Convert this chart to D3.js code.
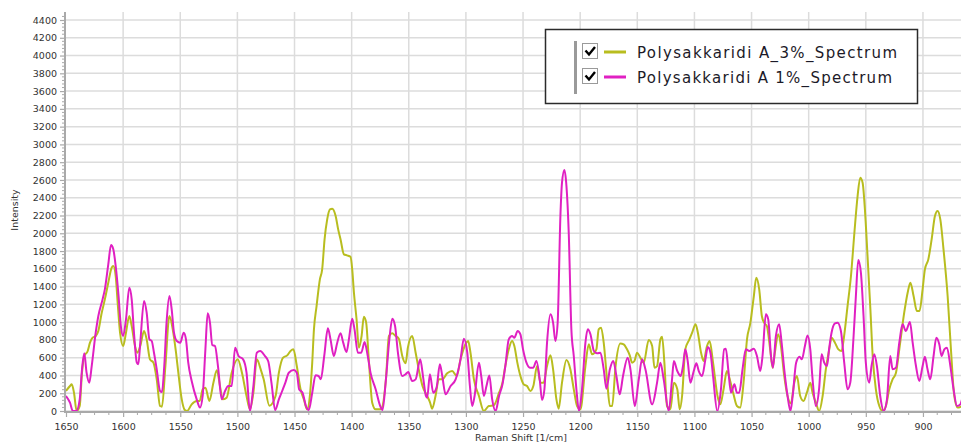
<!DOCTYPE html>
<html><head><meta charset="utf-8">
<script src="https://cdn.jsdelivr.net/npm/d3@7/dist/d3.min.js"></script>
<style>
html,body{margin:0;padding:0;background:#fff;}
svg{display:block;font-family:Verdana,"DejaVu Sans",sans-serif;}
</style></head>
<body>
<svg id="chart" width="961" height="445"></svg>
<script>
// ---- data ----
const seriesNames = ["Polysakkaridi A_3%_Spectrum", "Polysakkaridi A 1%_Spectrum"];
const seriesColors = ["#b8bd1f", "#e020c2"];
const xTickValues = [1650,1600,1550,1500,1450,1400,1350,1300,1250,1200,1150,1100,1050,1000,950,900];
const yTickValues = [0,200,400,600,800,1000,1200,1400,1600,1800,2000,2200,2400,2600,2800,3000,3200,3400,3600,3800,4000,4200,4400];

const shiftA = [1650,1646.5,1645,1643,1640.7,1638,1636,1634,1631,1629,1626.7,1624,1621.7,1619,1616,1613,1610,1608.6,1606.5,1604.8,1602.7,1600,1597.5,1594.6,1592.5,1589.6,1587.6,1585,1581.7,1579.4,1576.5,1573.5,1570.6,1567.7,1566,1563,1559.5,1556.6,1553.7,1551.7,1548.7,1546,1544,1540,1535.6,1533,1530.4,1528,1524.5,1521,1518,1515,1513,1509.4,1505,1499.7,1496,1492,1489,1486,1483,1479.6,1477,1472,1466.6,1463.7,1460,1456.4,1453.5,1451,1448,1444.7,1441.8,1439,1436.6,1434.5,1433,1430.7,1427.8,1425.8,1423.7,1421.4,1419,1417,1414,1411.8,1409.7,1406.8,1404,1401,1399.5,1398,1395.7,1393.7,1391.3,1389.3,1387.3,1385,1382,1379,1374.7,1370,1367.4,1364.5,1361.6,1358.7,1355.7,1352.8,1350.8,1347,1344,1341,1338,1333.9,1331.5,1329.5,1326.6,1323.7,1320.7,1316.4,1312,1308,1304.7,1300,1298,1296,1293,1288.6,1284.3,1280,1275.6,1271,1268,1265.5,1262.5,1259.6,1257.6,1255,1252.3,1249.4,1246.5,1243.6,1241,1237.7,1234.8,1232,1229,1226,1223.7,1220.8,1218.8,1215.9,1212,1208.6,1205.6,1202.7,1199.8,1195.4,1192.5,1189.6,1185.8,1183.8,1181.7,1179.4,1176.5,1174,1172,1169,1164.8,1161.9,1159,1156.6,1154.6,1152.5,1150.2,1147.3,1144.4,1140,1137,1135,1132.7,1129.8,1128.3,1126.3,1124,1121,1118,1115,1112.9,1110.8,1108,1104.4,1102,1099,1097,1094.2,1092,1089,1086.7,1083.7,1079.8,1077.4,1074.5,1071.6,1068.7,1065.8,1062.8,1060,1057,1054,1051,1048,1045.9,1043.3,1041,1039,1036.6,1033.7,1031.6,1029.6,1026.7,1024.3,1021.4,1018.5,1015.6,1012.6,1010.3,1007.4,1004.5,1001.6,998.6,996.6,993.7,990.8,987.8,985,982,980,977,974,971.2,969,966,963,960,957.2,954.9,952.8,950.8,948.5,946,944,941.2,938.2,935.3,932.4,929.5,926.6,923.6,920.7,916.4,913.4,911,908.2,905.3,903,900.3,898.3,895.3,892.4,889.5,887.2,884.8,882,878.4,875.5,872.6,869.7,865.8];
const intensityA = [225,281,300,206,0,56,431,619,675,769,825,844,900,1088,1256,1444,1613,1631,1519,1219,881,731,881,1069,956,731,656,731,900,806,581,544,356,56,49,506,1069,919,656,431,131,11,0,75,113,113,244,263,113,319,458,263,131,150,431,581,431,169,19,206,581,469,356,60,169,431,600,626,675,694,506,244,131,19,169,544,919,1181,1481,1594,1931,2156,2269,2276,2194,2044,1931,1763,1751,1736,1594,1331,1031,713,844,1061,994,581,94,19,19,356,844,874,844,814,619,536,713,844,656,450,281,169,101,26,169,356,356,424,450,394,581,761,788,656,356,169,0,56,64,206,319,506,694,788,731,544,394,300,281,225,281,506,319,319,506,626,469,131,26,319,574,469,244,56,19,506,750,638,694,919,938,769,356,56,56,506,761,750,694,626,544,563,656,600,544,799,731,488,506,806,836,544,56,19,319,244,19,169,694,806,881,975,881,656,563,731,788,544,169,75,244,450,338,188,56,38,319,806,994,1294,1500,1369,1069,994,956,694,488,656,863,731,394,169,86,319,394,169,113,206,319,206,94,0,169,469,694,825,769,694,675,844,1181,1519,2006,2419,2625,2569,2269,1744,1144,619,244,56,0,56,244,356,431,694,1106,1331,1444,1294,1125,1125,1369,1594,1706,1931,2194,2250,2156,1819,1294,694,169,38,56];

const shiftB = [1650,1646.5,1644,1641,1638,1636,1634,1632,1629.6,1627.5,1624,1621.7,1618,1616,1613,1610.6,1608.6,1606.5,1604,1602,1600,1597.5,1594.6,1592.5,1590.5,1588,1586.7,1585,1581.7,1579.4,1577,1575,1573,1570.6,1567.7,1566,1564,1562,1559.5,1557.5,1555.5,1553,1550,1547,1545,1543,1540,1535.6,1532.7,1530.4,1528,1526,1524,1522,1519.6,1517,1513.7,1510.8,1508,1505,1502,1499,1495,1492,1489,1486,1483,1480,1476,1473,1470,1467,1463.7,1460.8,1458,1455,1450.6,1448,1446,1443,1440,1437.5,1434.5,1431.6,1429,1427,1424,1420.8,1418.5,1415.6,1412.6,1409.7,1407.4,1404.5,1402.4,1399.5,1397.5,1394.6,1391.6,1388.7,1386.4,1383.5,1379,1375,1373,1370,1367,1364.4,1362,1359.5,1355.7,1352.8,1350.5,1347,1344,1340,1337.4,1335,1333.9,1331.5,1328.6,1325.7,1322.8,1320.7,1317.8,1313.4,1309,1304.7,1301.8,1298.8,1296.5,1294.5,1292.4,1288.6,1286.6,1284.3,1282,1279.5,1277,1274,1271,1268,1265.5,1262.5,1259.6,1257.6,1254.7,1252.3,1250,1247,1244,1241,1238.3,1235.4,1233.4,1231.3,1229,1226,1223.7,1221.7,1219.7,1217.3,1215.9,1213.8,1212,1210,1207.7,1205.6,1203.3,1201,1198.4,1195.4,1193.4,1191,1188,1185,1182.3,1179.4,1177,1174,1171,1168.3,1165.4,1162.5,1158.4,1156,1152.2,1148.7,1145.8,1142.9,1137,1132.7,1129.8,1126.9,1122.5,1119.6,1118,1115,1112,1110,1108,1105.9,1103.5,1100.6,1098.3,1096.2,1093.3,1090.4,1088.3,1086,1083.7,1080,1076.8,1074,1072.5,1070.4,1068,1065,1062.8,1060.8,1057.9,1055,1052,1048,1045.3,1042.4,1040.4,1037.5,1035.4,1033,1031.3,1028.7,1025.8,1023.7,1021.4,1018.5,1016,1014,1011,1008,1006,1003.3,1001,998.6,996.6,993.7,990.8,988.7,986.4,984,982,980,977,974.7,971.8,968.9,966,963.6,960.7,958.7,956.6,954.3,952,950,947,945,942.6,940.3,937.4,934.4,931.5,928.6,926.6,923.6,920.7,917.8,915,911.4,909,906.1,903.2,900.3,898.3,896,893.6,890.7,888.3,885.7,883.7,881.3,879,876,873.2,870.2,867.3,865.8];
const intensityB = [169,94,0,0,131,469,649,431,319,506,881,1069,1256,1369,1650,1868,1819,1631,1294,956,844,1031,1388,1256,881,544,525,769,1238,1106,806,788,656,469,225,214,506,994,1294,1144,881,788,769,881,806,544,338,131,38,169,694,1099,994,743,731,506,131,225,281,281,713,619,581,431,0,281,656,675,620,560,300,10,131,225,319,431,461,431,244,206,56,11,206,401,394,356,619,930,806,619,769,874,769,664,806,1039,919,656,656,776,656,431,244,56,11,356,806,1039,956,656,394,413,439,338,356,581,375,169,150,413,206,263,525,394,188,281,356,581,814,656,281,56,169,544,394,169,281,400,131,0,169,300,506,806,844,825,900,863,694,544,488,488,563,356,124,244,769,1088,994,788,994,2194,2569,2711,2531,2006,919,619,244,0,244,769,919,863,675,649,656,469,251,469,563,394,188,394,600,469,56,356,581,469,75,319,544,356,0,356,563,450,394,506,694,563,319,450,536,450,394,581,720,656,394,0,244,694,701,469,206,300,206,206,469,694,675,701,619,450,619,1088,1031,619,488,844,975,769,469,169,0,169,544,611,581,731,851,694,356,56,263,638,544,506,713,881,986,994,900,544,244,319,844,1294,1699,1556,1069,544,319,506,638,506,169,0,131,619,469,488,769,975,900,1001,769,506,338,506,611,469,356,619,825,750,619,694,713,506,244,56,75,131];

// ---- layout ----
const svg = d3.select("#chart");
const X0 = 66, X1 = 961, Y0 = 411, YTOP = 12;
const x = d3.scaleLinear().domain([1650, 1650 - (X1 - X0) / 1.1426]).range([X0, X1]);
const y = d3.scaleLinear().domain([0, 4400]).range([Y0, 20]);

const gridColor = "#dcdcdc", axisColor = "#a9a9a9", textColor = "#333";

// grid
const grid = svg.append("g");
grid.selectAll("line.h").data(yTickValues).join("line")
  .attr("x1", X0).attr("x2", X1).attr("y1", d => y(d)).attr("y2", d => y(d))
  .attr("stroke", gridColor).attr("stroke-width", 1.5);
grid.selectAll("line.v").data(xTickValues.filter(v => v !== 1650)).join("line")
  .attr("x1", d => x(d)).attr("x2", d => x(d)).attr("y1", YTOP).attr("y2", Y0)
  .attr("stroke", gridColor).attr("stroke-width", 1.5);

// clip
svg.append("clipPath").attr("id", "plotclip").append("rect")
  .attr("x", X0).attr("y", YTOP - 2).attr("width", X1 - X0).attr("height", Y0 - YTOP + 3);

// lines
const line = d3.line().x(d => x(d[0])).y(d => y(d[1])).curve(d3.curveMonotoneX);
const dataA = shiftA.map((s, i) => [s, intensityA[i]]);
const dataB = shiftB.map((s, i) => [s, intensityB[i]]);
const plot = svg.append("g").attr("clip-path", "url(#plotclip)");
plot.append("path").datum(dataA).attr("d", line).attr("fill", "none")
  .attr("stroke", seriesColors[0]).attr("stroke-width", 2).attr("stroke-linejoin", "round");
plot.append("path").datum(dataB).attr("d", line).attr("fill", "none")
  .attr("stroke", seriesColors[1]).attr("stroke-width", 2).attr("stroke-linejoin", "round");

// y axis
const yAxis = d3.axisLeft(y).tickValues(yTickValues).tickSize(5).tickPadding(3).tickFormat(d3.format("d"));
const yg = svg.append("g").attr("transform", `translate(${X0 - 1},0)`).call(yAxis);
yg.select(".domain").remove();
yg.selectAll(".tick line").attr("stroke", axisColor).attr("stroke-width", 1.2);
yg.selectAll(".tick text").attr("fill", textColor).attr("font-size", "9.5px").attr("font-family", "Verdana, 'DejaVu Sans', sans-serif");
const yMinor = d3.range(0, 4450, 40).filter(v => v % 200 !== 0);
svg.append("g").selectAll("line").data(yMinor).join("line")
  .attr("x1", X0 - 4).attr("x2", X0 - 1).attr("y1", d => y(d)).attr("y2", d => y(d))
  .attr("stroke", axisColor).attr("stroke-width", 1);
svg.append("line").attr("x1", X0 - 1).attr("x2", X0 - 1).attr("y1", YTOP).attr("y2", Y0 + 1)
  .attr("stroke", axisColor).attr("stroke-width", 2);

// x axis
const xAxis = d3.axisBottom(x).tickValues(xTickValues).tickSize(5).tickPadding(6).tickFormat(d3.format("d"));
const xg = svg.append("g").attr("transform", `translate(0,${Y0 + 1})`).call(xAxis);
xg.select(".domain").remove();
xg.selectAll(".tick line").attr("stroke", axisColor).attr("stroke-width", 1.2);
xg.selectAll(".tick text").attr("fill", textColor).attr("font-size", "9.5px").attr("font-family", "Verdana, 'DejaVu Sans', sans-serif");
const xMinor = d3.range(1650, 866, -12.5).filter(v => v % 50 !== 0);
svg.append("g").selectAll("line").data(xMinor).join("line")
  .attr("x1", d => x(d)).attr("x2", d => x(d)).attr("y1", Y0 + 1).attr("y2", Y0 + 4)
  .attr("stroke", axisColor).attr("stroke-width", 1);
svg.append("line").attr("x1", X0 - 2).attr("x2", X1).attr("y1", Y0 + 1).attr("y2", Y0 + 1)
  .attr("stroke", axisColor).attr("stroke-width", 2);

// axis titles
svg.append("text").attr("x", 521).attr("y", 441).attr("text-anchor", "middle")
  .attr("font-size", "9.5px").attr("fill", textColor).text("Raman Shift [1/cm]");
svg.append("text").attr("transform", "translate(18,210) rotate(-90)").attr("text-anchor", "middle")
  .attr("font-size", "9.5px").attr("fill", textColor).text("Intensity");

// legend
const lg = svg.append("g");
lg.append("rect").attr("x", 545.5).attr("y", 29.5).attr("width", 372).attr("height", 74)
  .attr("fill", "#fff").attr("stroke", "#2b2b2b").attr("stroke-width", 1.5);
lg.append("rect").attr("x", 574).attr("y", 41).attr("width", 3).attr("height", 53).attr("fill", "#9a9a9a");
seriesNames.forEach((name, i) => {
  const cy = 52 + i * 25;
  lg.append("rect").attr("x", 582.5).attr("y", cy - 8.5).attr("width", 15).attr("height", 15)
    .attr("fill", "#fff").attr("stroke", "#9a9a9a").attr("stroke-width", 1);
  lg.append("path").attr("d", `M${585.5},${cy - 1.5} L${589},${cy + 2.5} L${595},${cy - 5}`)
    .attr("fill", "none").attr("stroke", "#000").attr("stroke-width", 2.4);
  lg.append("line").attr("x1", 604).attr("x2", 626).attr("y1", cy).attr("y2", cy)
    .attr("stroke", seriesColors[i]).attr("stroke-width", 3);
  lg.append("text").attr("x", 637).attr("y", cy + 5.5).attr("font-size", "15px")
    .attr("font-family", "Verdana, 'DejaVu Sans', sans-serif").attr("fill", "#1c1a28")
    .attr("textLength", i === 0 ? 260 : 255).attr("lengthAdjust", "spacing")
    .text(name);
});
</script>
</body></html>
